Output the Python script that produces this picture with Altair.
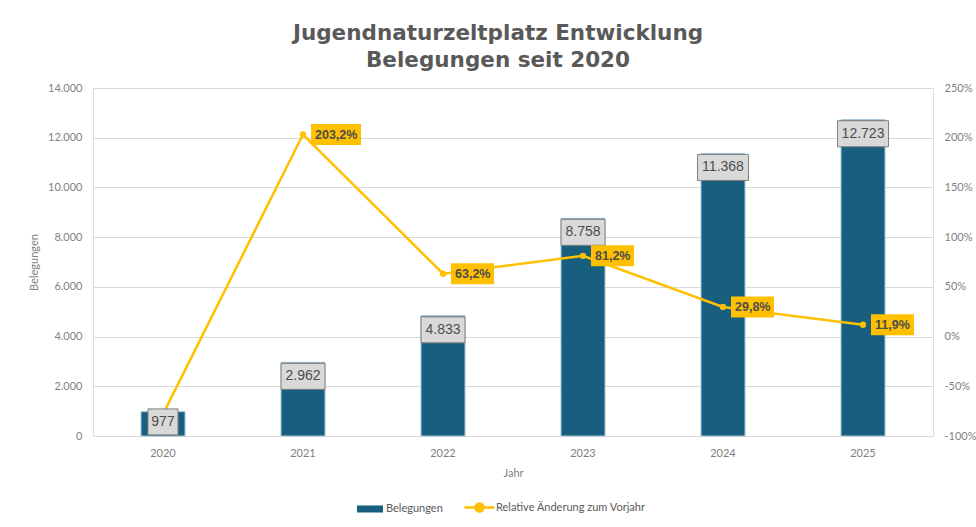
import altair as alt
import pandas as pd

# ---- data ----
years = ["2020", "2021", "2022", "2023", "2024", "2025"]
belegungen = [977, 2962, 4833, 8758, 11368, 12723]
aenderung = [-0.78, 2.032, 0.632, 0.812, 0.298, 0.119]
label_sichtbar = [False, True, True, True, True, True]

df = pd.DataFrame({
    "Jahr": years,
    "Belegungen": belegungen,
    "Aenderung": aenderung,
    "zeigen": label_sichtbar,
})

BLUE = "#175e7f"
GOLD = "#FFC000"
GRID = "#d9d9d9"
AX = "#7f7f7f"
FONT = "Lato"
LFONT = "Liberation Sans"

left_scale = alt.Scale(domain=[0, 14000])
right_scale = alt.Scale(domain=[-1, 2.5])
xscale = alt.Scale(paddingInner=0.6, paddingOuter=0.3)

base = alt.Chart(df).transform_calculate(
    serie1="'Belegungen'",
    serie2="'Relative Änderung zum Vorjahr'",
    labelTop="max(datum.Belegungen, 1130)",
    bw="length(format(datum.Belegungen, ',d')) * 7 + 9",
    cw="length(format(datum.Aenderung, '.1%')) * 7 + 8",
)

x_axis = alt.Axis(labelAngle=0, title="Jahr", ticks=False, domainColor=GRID,
                  labelColor=AX, labelFont=FONT, labelFontSize=11, labelPadding=11,
                  titleColor=AX, titleFont=FONT, titleFontSize=11, titleFontWeight="normal",
                  titlePadding=9, grid=False)
x_enc = alt.X("Jahr:N", scale=xscale, axis=x_axis)

bars = base.mark_bar(width=44, stroke="#a3c6d7", strokeWidth=1).encode(
    x=x_enc,
    y=alt.Y("Belegungen:Q", scale=left_scale,
            axis=alt.Axis(values=list(range(0, 14001, 2000)), format=",d",
                          domain=False, ticks=False, gridColor=GRID,
                          labelColor=AX, labelFont=FONT, labelFontSize=11, labelPadding=11,
                          title="Belegungen", titleColor=AX, titleFont=FONT, titleFontSize=11,
                          titleFontWeight="normal", titlePadding=8)),
    fill=alt.Fill("serie1:N", scale=alt.Scale(domain=["Belegungen"], range=[BLUE]),
                  legend=alt.Legend(title=None, orient="none", legendX=264, legendY=408,
                                    symbolType="M-1,-0.27H1V0.27H-1Z", symbolSize=676,
                                    symbolStrokeWidth=0, labelFont=FONT, labelFontSize=11,
                                    labelColor="#595959", labelOffset=3, padding=0)),
)

line = base.mark_line(strokeWidth=2.5).encode(
    x=x_enc,
    y=alt.Y("Aenderung:Q", scale=right_scale,
            axis=alt.Axis(orient="right", values=[-1, -0.5, 0, 0.5, 1, 1.5, 2, 2.5],
                          format=".0%", domain=False, ticks=False, grid=False,
                          labelColor=AX, labelFont=FONT, labelFontSize=11, labelPadding=11,
                          title=None)),
    stroke=alt.Stroke("serie2:N", scale=alt.Scale(domain=["Relative Änderung zum Vorjahr"], range=[GOLD]),
                      legend=alt.Legend(title=None, orient="none", legendX=370, legendY=403,
                                        symbolType="M-1,0H-0.27A0.27,0.27 0 1,1 0.27,0H1M0.27,0A0.27,0.27 0 1,1 -0.27,0Z",
                                        symbolSize=900, symbolStrokeWidth=2.5, symbolFillColor=GOLD,
                                        labelFont=FONT, labelFontSize=11, labelColor="#595959",
                                        labelOffset=0, padding=0)),
)

points = base.mark_point(filled=True, size=40, color=GOLD, opacity=1).encode(
    x=x_enc,
    y=alt.Y("Aenderung:Q", scale=right_scale, axis=None),
)

gray_box = base.mark_bar(fill="#d9d9d9", stroke="#808080", strokeWidth=1,
                         yOffset=1, y2Offset=27).encode(
    x=x_enc,
    y=alt.Y("labelTop:Q", scale=left_scale, axis=None),
    y2="labelTop:Q",
    size=alt.Size("bw:Q", scale=None, legend=None),
)

gray_text = base.mark_text(font=LFONT, fontSize=14, color="#4d4d4d", baseline="middle",
                           yOffset=14).encode(
    x=x_enc,
    y=alt.Y("labelTop:Q", scale=left_scale, axis=None),
    text=alt.Text("Belegungen:Q", format=",d"),
)

shown = base.transform_filter("datum.zeigen")

def gold_box(cond, offset):
    return shown.transform_filter(cond).mark_bar(fill=GOLD, yOffset=-10.5, y2Offset=10.5,
                                                 xOffset=offset).encode(
        x=x_enc,
        y=alt.Y("Aenderung:Q", scale=right_scale, axis=None),
        y2="Aenderung:Q",
        size=alt.Size("cw:Q", scale=None, legend=None),
    )

gold_wide = gold_box("datum.cw > 46", 8 + 25)
gold_narrow = gold_box("datum.cw <= 46", 8 + 21.5)

gold_text = shown.mark_text(font=LFONT, fontSize=12.5, fontWeight="bold", color="#4d4d4d",
                            align="left", baseline="middle", dx=12).encode(
    x=x_enc,
    y=alt.Y("Aenderung:Q", scale=right_scale, axis=None),
    text=alt.Text("Aenderung:Q", format=".1%"),
)

chart = alt.layer(
    bars, line, points, gray_box, gray_text, gold_wide, gold_narrow, gold_text
).resolve_scale(
    y="independent"
).properties(
    width=840,
    height=348,
    title=alt.TitleParams(["Jugendnaturzeltplatz Entwicklung", "Belegungen seit 2020"],
                          font="DejaVu Sans", fontSize=21.5, fontWeight="bold", color="#595959",
                          anchor="middle", dx=-15, offset=11, lineHeight=27),
    autosize=alt.AutoSizeParams(type="none"),
    padding={"left": 93, "top": 88, "right": 43, "bottom": 91},
).configure_view(
    stroke=None
).configure(background="white")

chart.save("out.html", embed_options={
    "renderer": "svg", "actions": False,
    "formatLocale": {"decimal": ",", "thousands": ".", "grouping": [3],
                     "currency": ["", " €"], "minus": "-"},
})
